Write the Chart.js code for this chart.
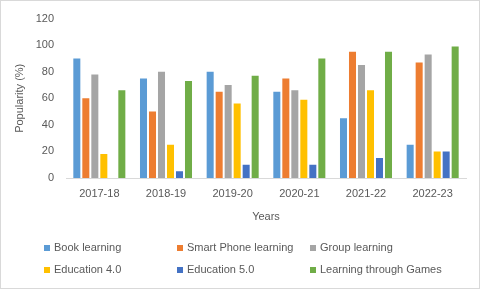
<!DOCTYPE html>
<html>
<head>
<meta charset="utf-8">
<script src="https://cdn.jsdelivr.net/npm/chart.js@4/dist/chart.umd.min.js"></script>
<style>
  html, body { margin: 0; padding: 0; background: #fff; }
  #wrap { width: 480px; height: 289px; position: relative; }
</style>
</head>
<body>
<div id="wrap"><canvas id="popChart"></canvas></div>
<script>
const years = ['2017-18', '2018-19', '2019-20', '2020-21', '2021-22', '2022-23'];

const bookLearning = [90, 75, 80, 65, 45, 25];
const smartPhoneLearning = [60, 50, 65, 75, 95, 87];
const groupLearning = [78, 80, 70, 66, 85, 93];
const education40 = [18, 25, 56, 59, 66, 20];
const education50 = [0, 5, 10, 10, 15, 20];
const learningGames = [66, 73, 77, 90, 95, 99];

const seriesNames = ['Book learning', 'Smart Phone learning', 'Group learning', 'Education 4.0', 'Education 5.0', 'Learning through Games'];
const seriesColors = ['#5B9BD5', '#ED7D31', '#A5A5A5', '#FFC000', '#4472C4', '#70AD47'];
const seriesData = [bookLearning, smartPhoneLearning, groupLearning, education40, education50, learningGames];

const textColor = '#595959';
const fontFamily = '"Liberation Sans", Arial, sans-serif';

// legend laid out in 3 fixed columns like the excel one
const gridLegend = {
  id: 'gridLegend',
  afterDraw(chart) {
    const c = chart.ctx;
    const colX = [44, 177, 310];
    const rowY = [248, 270];
    c.save();
    c.font = '11px ' + fontFamily;
    c.textBaseline = 'middle';
    c.textAlign = 'left';
    chart.data.datasets.forEach((ds, i) => {
      const x = colX[i % 3];
      const y = rowY[Math.floor(i / 3)];
      c.fillStyle = ds.backgroundColor;
      c.fillRect(x, y - 3, 6, 6);
      c.fillStyle = textColor;
      c.fillText(ds.label, x + 10, y);
    });
    // outer frame
    c.strokeStyle = '#d9d9d9';
    c.lineWidth = 1;
    c.strokeRect(0.5, 0.5, chart.width - 1, chart.height - 1);
    c.restore();
  }
};

const ctx = document.getElementById('popChart').getContext('2d');

const popChart = new Chart(ctx, {
  type: 'bar',
  data: {
    labels: years,
    datasets: seriesNames.map((name, i) => ({
      label: name,
      data: seriesData[i],
      backgroundColor: seriesColors[i],
      borderWidth: 0,
      categoryPercentage: 0.81,
      barPercentage: 0.78,
    }))
  },
  options: {
    responsive: true,
    maintainAspectRatio: false,
    animation: false,
    layout: {
      padding: { top: 14, right: 14, bottom: 61, left: 9 }
    },
    plugins: {
      legend: { display: false },
      tooltip: { enabled: false },
    },
    scales: {
      x: {
        grid: { display: false, drawTicks: false },
        border: { display: true, color: '#d9d9d9', width: 1 },
        ticks: { color: textColor, font: { family: fontFamily, size: 11 }, padding: 9, maxRotation: 0 },
        title: { display: true, text: 'Years', color: textColor, font: { family: fontFamily, size: 11 }, padding: { top: 12 } },
        afterFit(scale) { scale.height = 50; }
      },
      y: {
        min: 0,
        max: 120,
        ticks: { stepSize: 20, color: textColor, font: { family: fontFamily, size: 11 }, padding: 12 },
        grid: { display: false, drawTicks: false },
        border: { display: false },
        title: { display: true, text: 'Popularity (%)', color: textColor, font: { family: fontFamily, size: 11 }, padding: { bottom: 4 } },
        afterFit(scale) { scale.width = 57; }
      }
    }
  },
  plugins: [gridLegend]
});
</script>
</body>
</html>
